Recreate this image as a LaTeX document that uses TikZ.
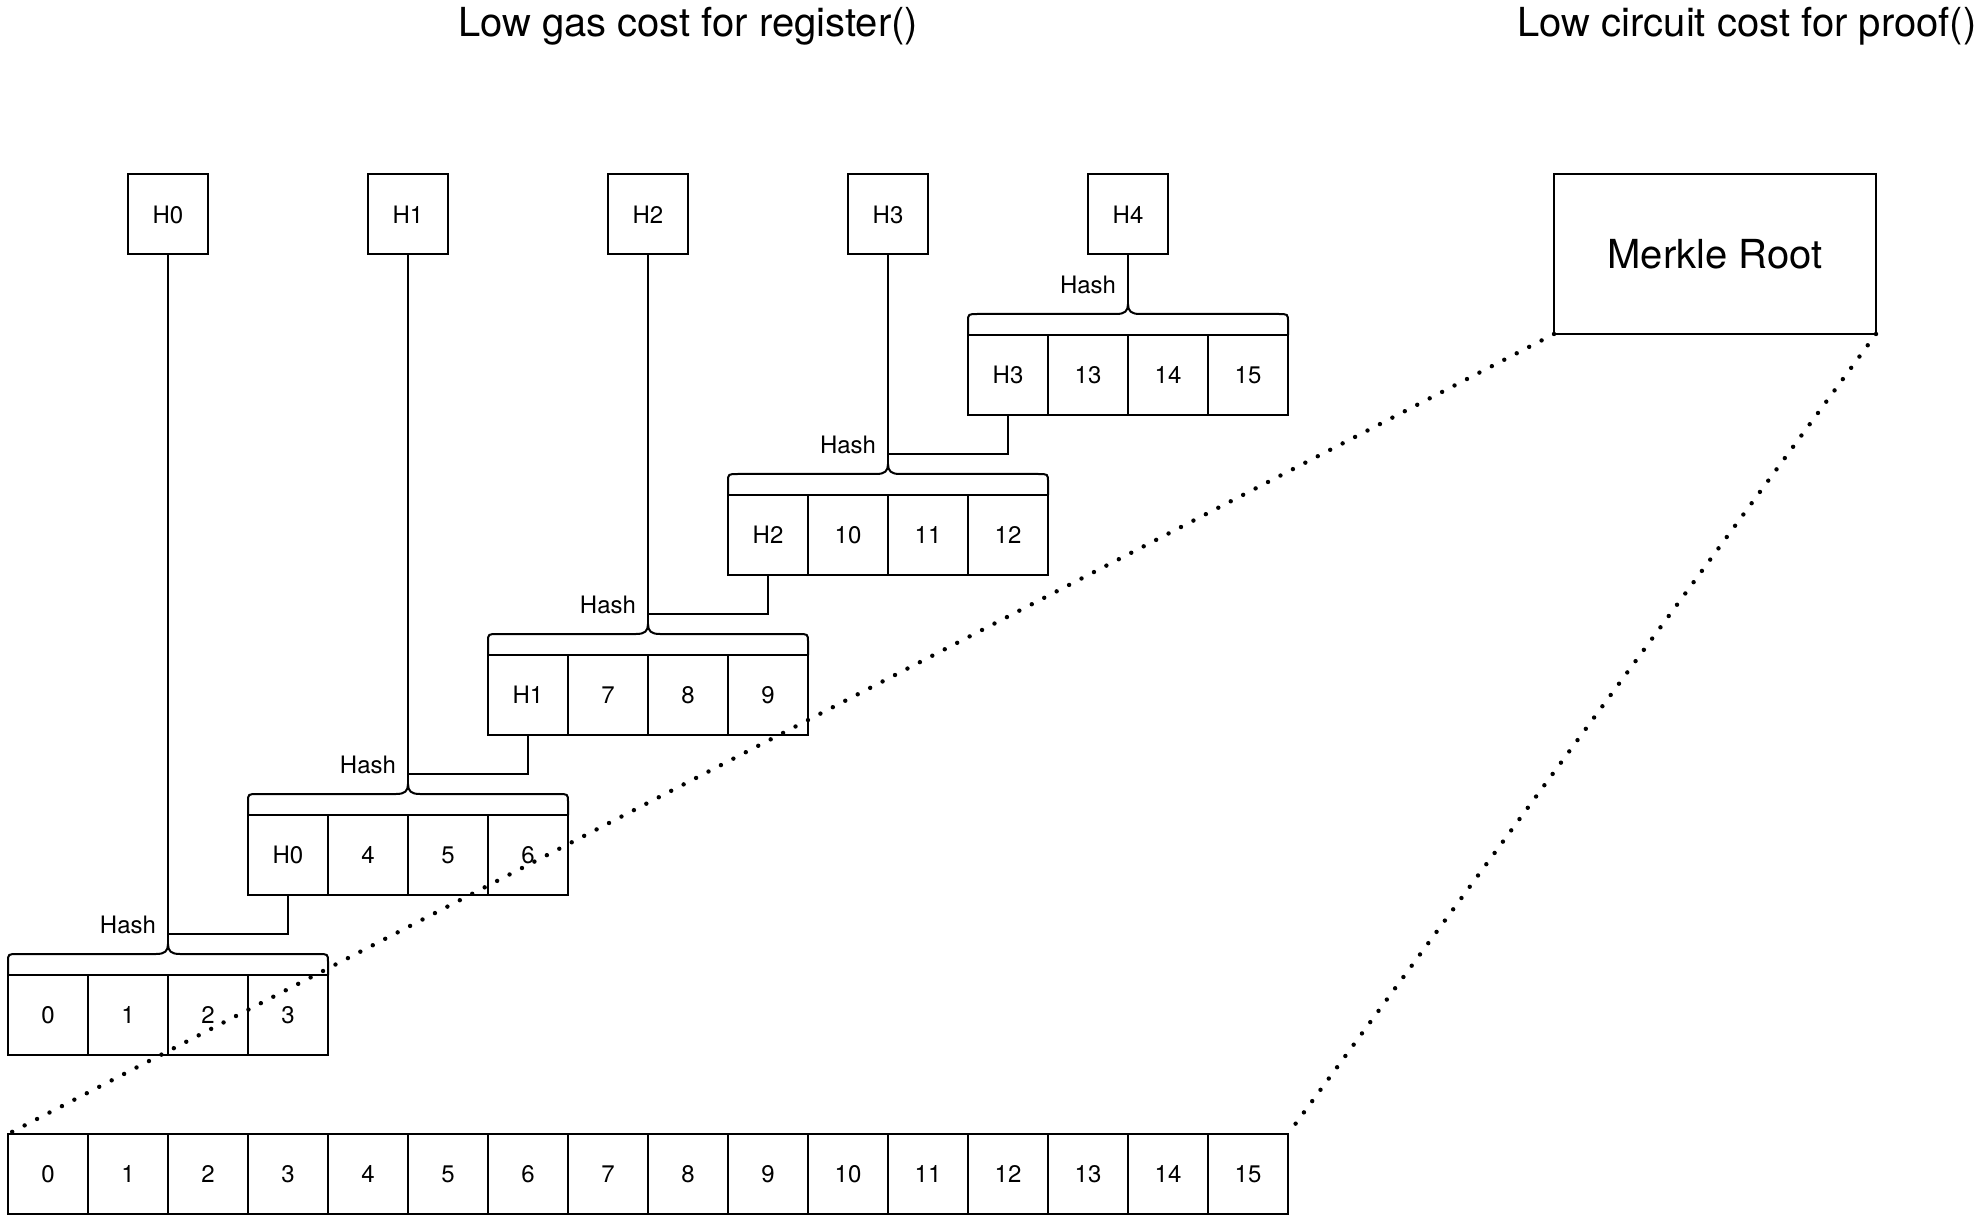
\documentclass[tikz,border=0pt]{standalone}
\usepackage{fontspec}
\setmainfont{TeX Gyre Heros}

\tikzset{
  cell/.style={draw, line width=1pt, minimum size=40pt, inner sep=0pt, outer sep=0pt, font=\fontsize{12}{14}\selectfont},
  hbox/.style={cell},
  rootbox/.style={draw, line width=1pt, minimum width=161pt, minimum height=80pt, outer sep=0pt, font=\fontsize{20}{24}\selectfont},
  heading/.style={anchor=base, inner sep=0pt, font=\fontsize{20}{24}\selectfont},
  hashlbl/.style={inner sep=0pt, font=\fontsize{12}{14}\selectfont},
  dotline/.style={line width=2.2pt, line cap=round, dash pattern=on 0pt off 7pt},
}

\begin{document}
\begin{tikzpicture}[x=0.5pt, y=-0.5pt, line width=1pt]
%\draw [help lines, step=20](0,0) grid (1986,1224);
\useasboundingbox (0,0) rectangle (1986,1224);

\node[heading] (gastitle) at (688,37) {Low gas cost for register()};
\node[heading] (circtitle) at (1747,37) {Low circuit cost for proof()};

% hashes and root
\foreach \k in {0,...,4}
  \node[hbox] (h\k) at (168+240*\k,214.5) {H\k};
\node[rootbox] (root) at (1715,254) {Merkle Root};

% groups of four
\foreach \k/\labels in {0/{0,1,2,3},1/{H0,4,5,6},2/{H1,7,8,9},3/{H2,10,11,12},4/{H3,13,14,15}}{
  \foreach \t [count=\i from 0] in \labels
    \node[cell] (g\k-\i) at (48+240*\k+80*\i,1015-160*\k) {\t};
  \begin{scope}[shift={(g\k-0.north west)}]
    \draw (0,0) -- (0,-13) .. controls (0,-21) .. (10,-21) -- (148,-21)
      .. controls (157,-21) and (160,-24) .. (160,-31)
      .. controls (160,-24) and (163,-21) .. (172,-21) -- (310,-21)
      .. controls (320,-21) .. (320,-13) -- (320,0);
    \coordinate (tip\k) at (160,-31);
    \coordinate (join\k) at (160,-41);
    \node[hashlbl] (hash\k) at (120,-50) {Hash};
  \end{scope}
  \draw (h\k) -- (tip\k);
}
\foreach \k [evaluate=\k as \n using int(\k+1)] in {0,...,3}
  \draw (g\n-0.south) |- (join\k);

% all leaves
\foreach \i in {0,...,15}
  \node[cell] (b\i) at (48+80*\i,1174) {\i};

\draw[dotline] (root.south west) -- (b0.north west);
\draw[dotline] (root.south east) -- (b15.north east);
\end{tikzpicture}
\end{document}
